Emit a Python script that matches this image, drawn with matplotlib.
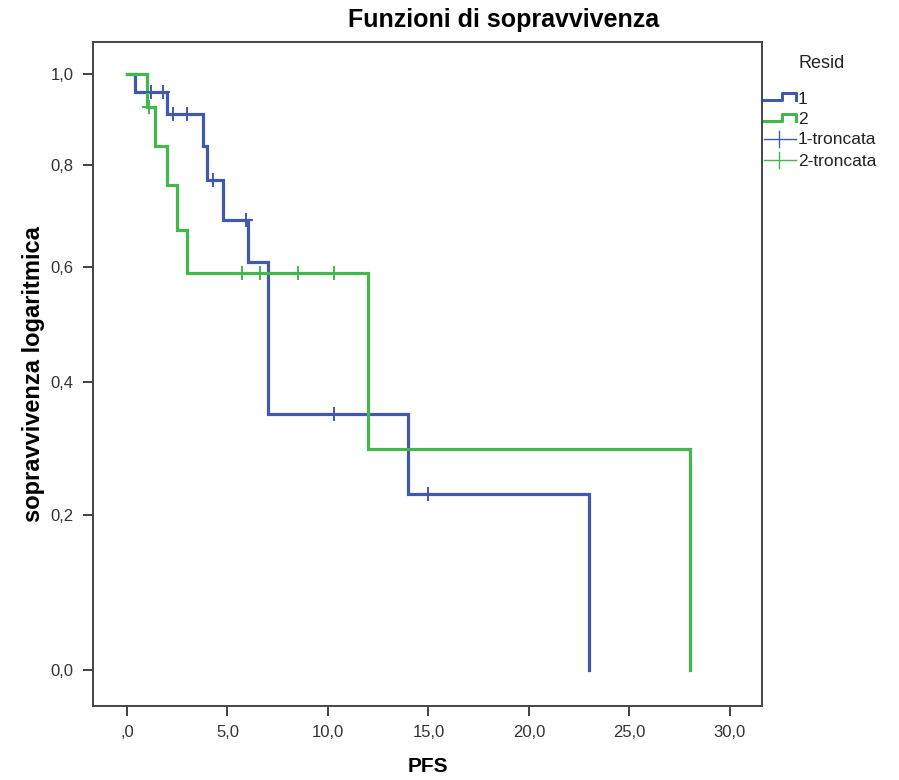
import numpy as np
import matplotlib
matplotlib.use("Agg")
import matplotlib.pyplot as plt
from matplotlib.lines import Line2D

plt.rcParams['font.family'] = ['Liberation Sans', 'DejaVu Sans']

# ---- data ----
blue_times = [0, 0.4, 2.0, 3.8, 4.0, 4.8, 6.0, 7.0, 14.0, 23.0]
blue_surv = [1.0, 0.96, 0.91, 0.84, 0.77, 0.69, 0.61, 0.35, 0.23, 0.0]
blue_cens = [1.2, 1.8, 2.3, 3.0, 4.3, 5.9, 10.3, 15.0]

green_times = [0, 1.0, 1.4, 2.0, 2.5, 3.0, 12.0, 28.0]
green_surv = [1.0, 0.925, 0.84, 0.76, 0.67, 0.59, 0.295, 0.0]
green_cens = [1.1, 5.7, 6.6, 8.5, 10.3]

xticks = [0, 5, 10, 15, 20, 25, 30]
xticklabels = [',0', '5,0', '10,0', '15,0', '20,0', '25,0', '30,0']
yticks = [0.0, 0.2, 0.4, 0.6, 0.8, 1.0]
yticklabels = ['0,0', '0,2', '0,4', '0,6', '0,8', '1,0']

BLUE = '#4258aa'
GREEN = '#43b64c'
C = 1.05


def fwd(s):
    s = np.asarray(s, dtype=float)
    return np.log(np.clip(s + C, 1e-6, None))


def inv(y):
    return np.exp(np.asarray(y, dtype=float)) - C


def step_value(times, surv, t):
    idx = np.searchsorted(times, t, side='right') - 1
    return np.asarray(surv)[idx]


fig = plt.figure(figsize=(8.99, 7.80), dpi=100)
ax = fig.add_axes([93 / 899, 74 / 780, 669 / 899, 664 / 780])
ax.set_yscale('function', functions=(fwd, inv))

ax.step(blue_times, blue_surv, where='post', color=BLUE, lw=2.3, solid_joinstyle='miter')
ax.step(green_times, green_surv, where='post', color=GREEN, lw=2.3, solid_joinstyle='miter')

ax.plot(blue_cens, step_value(blue_times, blue_surv, blue_cens), ls='none',
        marker='+', ms=10, mew=1.4, color=BLUE)
ax.plot(green_cens, step_value(green_times, green_surv, green_cens), ls='none',
        marker='+', ms=10, mew=1.4, color=GREEN)

ax.set_xlim(-1.69, 31.6)
ax.set_ylim(-0.0416, 1.075)
ax.set_xticks(xticks)
ax.set_xticklabels(xticklabels)
ax.set_yticks(yticks)
ax.set_yticklabels(yticklabels)
ax.minorticks_off()
ax.tick_params(direction='out', length=7, width=1.3, color='#333333',
               labelsize=12, labelcolor='#333333', pad=7)
for sp in ax.spines.values():
    sp.set_color('#444444')
    sp.set_linewidth(1.4)

ax.set_xlabel('PFS', fontsize=15, fontweight='bold', labelpad=12)
ax.set_ylabel('sopravvivenza logaritmica', fontsize=17, fontweight='bold', labelpad=4)
fig.text(504 / 899, 1 - 20 / 780, 'Funzioni di sopravvivenza', ha='center', va='center',
         fontsize=18, fontweight='bold')

# ---- legend (manual, SPSS style) ----
def fx(px):
    return px / 899


def fy(py):
    return 1 - py / 780


fig.text(fx(822), fy(63), 'Resid', ha='center', va='center', fontsize=13, color='#222222')
for py, col, lab in [(97, BLUE, '1'), (118, GREEN, '2')]:
    xs = [fx(764), fx(782), fx(782), fx(796), fx(796)]
    ys = [fy(py + 3), fy(py + 3), fy(py - 4), fy(py - 4), fy(py + 3)]
    fig.add_artist(Line2D(xs, ys, color=col, lw=2.2, transform=fig.transFigure))
    fig.text(fx(798), fy(py + 2), lab, ha='left', va='center', fontsize=12.5, color='#222222')
for py, col, lab in [(139, BLUE, '1-troncata'), (160, GREEN, '2-troncata')]:
    fig.add_artist(Line2D([fx(764), fx(796)], [fy(py), fy(py)], color=col, lw=1.0,
                          transform=fig.transFigure))
    fig.add_artist(Line2D([fx(779), fx(779)], [fy(py - 8), fy(py + 8)], color=col, lw=1.0,
                          transform=fig.transFigure))
    fig.text(fx(798), fy(py + 1), lab, ha='left', va='center', fontsize=12.5, color='#222222')

fig.savefig('out.png', dpi=100)
